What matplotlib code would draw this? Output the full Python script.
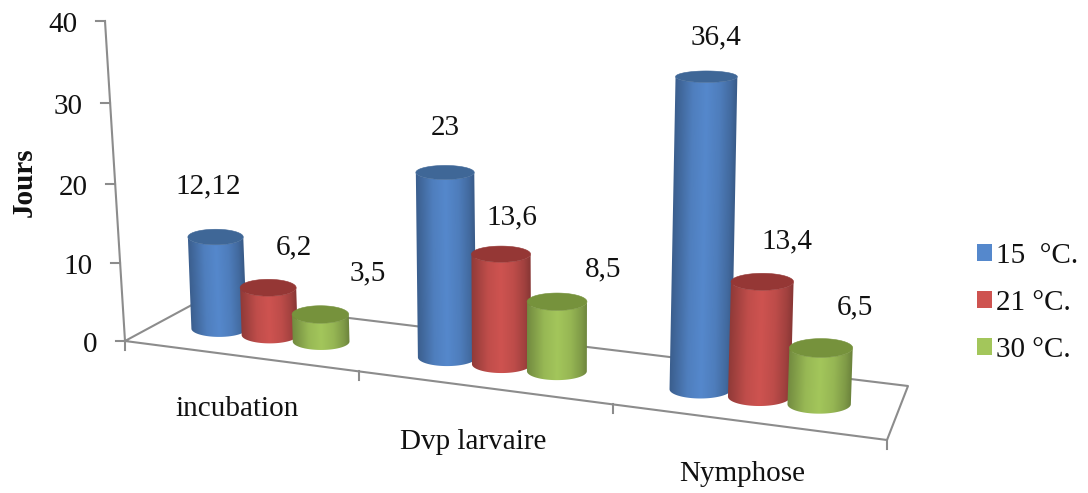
import numpy as np
import matplotlib
matplotlib.use("Agg")
import matplotlib.pyplot as plt
from matplotlib.patches import Polygon, Patch

categories = ["incubation", "Dvp larvaire", "Nymphose"]
series_labels = ["15  °C.", "21 °C.", "30 °C."]
temp_15 = [12.12, 23, 36.4]
temp_21 = [6.2, 13.6, 13.4]
temp_30 = [3.5, 8.5, 6.5]
y_ticks = [0, 10, 20, 30, 40]
y_label = "Jours"

BODY = ["#5588CC", "#CE5350", "#A3C65B"]
TOP = ["#3F6797", "#953735", "#76923C"]
AXIS = "#8C8C8C"
SERIF = "Liberation Serif"
FS = 21

# label offsets (pixels) from the centre of each cylinder top
LABEL_OFFSETS = [
    [(-7, -51), (26, -40), (47, -41)],
    [(0, -44), (11, -37), (46, -32)],
    [(10, -39), (25, -40), (34, -41)],
]
CATEGORY_NUDGE = [-0.014, -0.028, -0.012]

fig = plt.figure(figsize=(10.88, 4.93), dpi=100, facecolor="white")
ax = fig.add_axes([0, 0, 1, 1])
ax.axis("off")

# floor plane: perspective map of (category position, depth) onto the picture
corners_src = np.array([(0, 0), (3, 0), (3, 1), (0, 1)], float)
corners_dst = np.array([(125, 341), (887, 440), (908, 386), (201, 300)], float)


def homography(src, dst):
    rows, rhs = [], []
    for (u, v), (x, y) in zip(src, dst):
        rows.append([u, v, 1, 0, 0, 0, -u * x, -v * x])
        rows.append([0, 0, 0, u, v, 1, -u * y, -v * y])
        rhs += [x, y]
    return np.append(np.linalg.solve(np.array(rows), np.array(rhs)), 1).reshape(3, 3)


H = homography(corners_src, corners_dst)


def floor(u, d):
    p = H @ np.array([u, d, 1.0])
    return p[0] / p[2], p[1] / p[2]


def wall_height(v):
    return 7.705 * v / (1 - 0.00092 * v)


def bar_height(x, v):
    return (7.5 + 0.00185 * (x - 220)) * v / (1 - 0.00063 * v)


def lean(x):
    return (x - 540) * 0.00012


def cylinder(x0, y0, value, i):
    a = 27.7 + (x0 - 220) * 4 / 600
    b = 0.30 * a
    h = bar_height(x0, value)
    ln = lean(x0)
    xt, yt = x0 + ln * h, y0 - h
    # tops nearer eye level look flatter
    bt = a * (0.32 - 0.00043 * h)
    th = np.linspace(np.pi, 0, 60)
    bottom = np.c_[x0 + a * np.cos(th), y0 + b * np.sin(th)]
    top = np.c_[xt + a * np.cos(th), yt + bt * np.sin(th)]
    side = np.vstack([bottom, top[::-1]])

    # shaded side: an image of the colour across the cylinder, clipped to its outline
    left, right = side[:, 0].min() - 1, side[:, 0].max() + 1
    upper, lower = side[:, 1].min() - 1, side[:, 1].max() + 1
    nx, ny = int(2 * (right - left)), int(lower - upper) + 1
    xs = np.linspace(left, right, nx)
    ys = np.linspace(upper, lower, ny)
    X, Y = np.meshgrid(xs, ys)
    cx = x0 + ln * (y0 - Y)
    t = np.clip((X - (cx - a)) / (2 * a), 0, 1)
    # Excel's cylinder shading: dark rims, brightest near the centre
    s = np.interp(t, [0, 0.1, 0.28, 0.5, 0.72, 0.9, 1], [0.70, 0.78, 0.93, 1.0, 0.92, 0.78, 0.66])
    base = np.array(matplotlib.colors.to_rgb(BODY[i]))
    img = np.clip(s[..., None] * base, 0, 1)
    im = ax.imshow(img, extent=(left, right, lower, upper), origin="upper", aspect="auto",
                   interpolation="bilinear", zorder=5)
    im.set_clip_path(Polygon(side, closed=True, transform=ax.transData))

    th2 = np.linspace(0, 2 * np.pi, 80)
    ax.add_patch(Polygon(np.c_[xt + a * np.cos(th2), yt + bt * np.sin(th2)], closed=True,
                         facecolor=TOP[i], edgecolor=TOP[i], lw=0.4, zorder=5))
    return xt, yt


# floor outline
outline = np.vstack([corners_dst, corners_dst[:1]])
ax.plot(outline[:, 0], outline[:, 1], color=AXIS, lw=1.5, zorder=1)

# value axis and ticks
axis_x = lambda v: 125 - 20 * wall_height(v) / wall_height(40)
axis_y = lambda v: 341 - wall_height(v)
ax.plot([axis_x(0), axis_x(40)], [axis_y(0), axis_y(40)], color=AXIS, lw=1.5, zorder=1)
for v in y_ticks:
    x, y = axis_x(v), axis_y(v)
    ax.plot([x - 9.5, x], [y, y], color=AXIS, lw=1.5, zorder=1)
    ax.text(x - 27.5, y + 4, str(v), ha="right", va="center", family=SERIF, fontsize=FS, color="#111111")

# category ticks
for k in range(len(categories) + 1):
    x, y = floor(k, 0)
    ax.plot([x, x], [y, y + 9], color=AXIS, lw=1.5, zorder=1)

# cylinders and value labels
series = [temp_15, temp_21, temp_30]
for c in range(len(categories)):
    for s, vals in enumerate(series):
        x0, y0 = floor(c + 0.5 + CATEGORY_NUDGE[c] + (s - 1) * 0.225, 0.46)
        xt, yt = cylinder(x0, y0, vals[c], s)
        dx, dy = LABEL_OFFSETS[c][s]
        ax.text(xt + dx, yt + dy, str(vals[c]).replace(".", ","), ha="center", va="center",
                family=SERIF, fontsize=FS, color="#111111", zorder=6)

# category labels sit lower and lower along the sloping front edge
cat_label_pos = [(237, 409), (473, 442), (742, 474)]
for name, (x, y) in zip(categories, cat_label_pos):
    ax.text(x, y, name, ha="center", va="center", family=SERIF, fontsize=FS, color="#111111")

ax.text(24, 182, y_label, rotation=90, ha="center", va="center", family=SERIF,
        fontsize=21, fontweight="bold", color="#111111")

ax.set_xlim(0, 1088)
ax.set_ylim(493, 0)

handles = [Patch(facecolor=BODY[i], edgecolor="none", label=series_labels[i]) for i in range(3)]
ax.legend(handles=handles, loc="upper left", bbox_to_anchor=(971 / 1088, 1 - 237 / 493),
          frameon=False, prop={"family": SERIF, "size": FS}, handlelength=0.52, handleheight=0.52,
          handletextpad=0.14, labelspacing=0.72, borderpad=0.2, borderaxespad=0, labelcolor="#111111")

fig.savefig("out.png", dpi=100, facecolor="white")
